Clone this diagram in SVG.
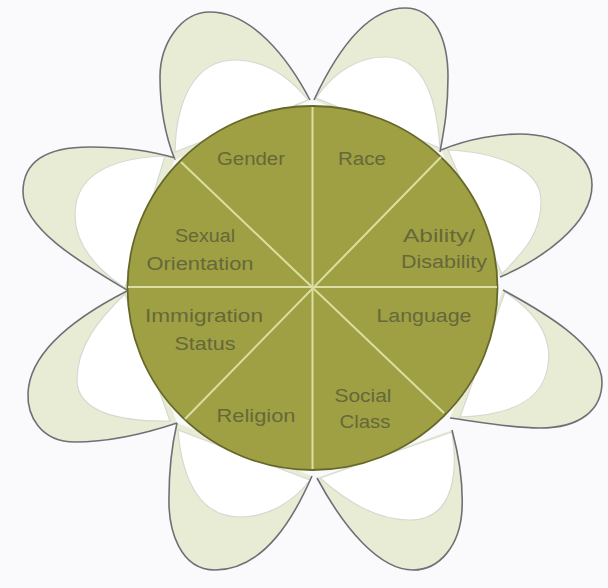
<svg xmlns="http://www.w3.org/2000/svg" width="608" height="588" viewBox="0 0 608 588">
  <style>
    .petal-fill { fill: #e9ecd5; stroke: none; }
    .petal-inner { fill: #ffffff; stroke: #d6d9d0; stroke-width: 1.2; }
    .petal-edge { fill: none; stroke: #6d7176; stroke-width: 1.6; stroke-linejoin: round; }
    .hub { fill: #9ea043; stroke: #66682a; stroke-width: 1.8; }
    .divider { stroke: #dcdfa2; stroke-width: 2; fill: none; }
    .label { font-family: "Liberation Sans", Arial, sans-serif; font-size: 18px; fill: #66683a; text-anchor: middle; }
  </style>
  <rect width="608" height="588" fill="#fafafc"/>

  <g id="petals">
    <g id="petal-gender">
      <path class="petal-fill" d="M310,100 C288,58 252,12 210,12 C180,12 160,45 160,77 C160,110 165,135 175,160 Z"/>
      <path class="petal-inner" d="M175,152 C176,100 195,60 235,60 C268,60 292,80 308,100 Z"/>
      <path class="petal-edge" d="M310,100 C288,58 252,12 210,12 C180,12 160,45 160,77 C160,110 165,135 175,160"/>
    </g>
    <g id="petal-race">
      <path class="petal-fill" d="M314,100 C335,55 365,8 405,8 C435,8 448,40 448,77 C448,110 444,130 440,152 Z"/>
      <path class="petal-inner" d="M316,98 C335,70 360,57 385,57 C420,57 436,90 440,148 Z"/>
      <path class="petal-edge" d="M314,100 C335,55 365,8 405,8 C435,8 448,40 448,77 C448,110 444,130 440,152"/>
    </g>
    <g id="petal-ability">
      <path class="petal-fill" d="M441,150 C470,138 500,134 520,134 C560,134 592,155 592,185 C592,225 540,260 500,277 Z"/>
      <path class="petal-inner" d="M448,150 C490,152 540,165 541,200 C542,235 520,255 502,274 Z"/>
      <path class="petal-edge" d="M441,150 C470,138 500,134 520,134 C560,134 592,155 592,185 C592,225 540,260 500,277"/>
    </g>
    <g id="petal-language">
      <path class="petal-fill" d="M503,290 C540,310 602,345 602,382 C602,410 580,428 540,428 C510,428 480,422 450,418 Z"/>
      <path class="petal-inner" d="M505,292 C540,315 552,340 548,365 C544,395 520,415 460,417 Z"/>
      <path class="petal-edge" d="M503,290 C540,310 602,345 602,382 C602,410 580,428 540,428 C510,428 480,422 450,418"/>
    </g>
    <g id="petal-social-class">
      <path class="petal-fill" d="M452,430 C460,460 463,490 462,510 C460,545 440,570 413,570 C380,570 345,530 317,478 Z"/>
      <path class="petal-inner" d="M452,432 C458,470 455,520 410,520 C375,520 345,500 320,478 Z"/>
      <path class="petal-edge" d="M452,430 C460,460 463,490 462,510 C460,545 440,570 413,570 C380,570 345,530 317,478"/>
    </g>
    <g id="petal-religion">
      <path class="petal-fill" d="M312,476 C295,515 265,570 215,570 C180,570 168,530 169,497 C169,470 172,445 177,423 Z"/>
      <path class="petal-inner" d="M178,430 C182,480 200,517 240,517 C270,517 295,500 310,480 Z"/>
      <path class="petal-edge" d="M312,476 C295,515 265,570 215,570 C180,570 168,530 169,497 C169,470 172,445 177,423"/>
    </g>
    <g id="petal-immigration">
      <path class="petal-fill" d="M177,423 C150,432 110,442 75,442 C40,442 27,415 28,393 C30,350 80,315 127,291 Z"/>
      <path class="petal-inner" d="M170,421 C120,422 77,412 77,380 C77,345 100,318 125,294 Z"/>
      <path class="petal-edge" d="M177,423 C150,432 110,442 75,442 C40,442 27,415 28,393 C30,350 80,315 127,291"/>
    </g>
    <g id="petal-sexual-orientation">
      <path class="petal-fill" d="M127,290 C85,265 23,230 23,192 C23,162 45,147 90,147 C125,147 155,152 175,158 Z"/>
      <path class="petal-inner" d="M165,156 C110,158 75,175 75,215 C75,245 95,268 125,288 Z"/>
      <path class="petal-edge" d="M127,290 C85,265 23,230 23,192 C23,162 45,147 90,147 C125,147 155,152 175,158"/>
    </g>
  </g>

  <g id="hub-circle">
    <ellipse class="hub" cx="312.5" cy="288" rx="185" ry="182"/>
  </g>

  <g id="connectors">
    <line class="divider" x1="312.5" y1="107" x2="312.5" y2="469"/>
    <line class="divider" x1="128" y1="287" x2="497" y2="287"/>
    <line class="divider" x1="181" y1="162" x2="444" y2="413"/>
    <line class="divider" x1="441" y1="157" x2="185" y2="419"/>
  </g>

  <g id="labels">
    <g id="node-gender"><text class="label" x="251" y="165" textLength="68" lengthAdjust="spacingAndGlyphs">Gender</text></g>
    <g id="node-race"><text class="label" x="362" y="165" textLength="48" lengthAdjust="spacingAndGlyphs">Race</text></g>
    <g id="node-sexual-orientation">
      <text class="label" x="205" y="242" textLength="60" lengthAdjust="spacingAndGlyphs">Sexual</text>
      <text class="label" x="200" y="270" textLength="107" lengthAdjust="spacingAndGlyphs">Orientation</text>
    </g>
    <g id="node-ability">
      <text class="label" x="439" y="242" textLength="72" lengthAdjust="spacingAndGlyphs">Ability/</text>
      <text class="label" x="444" y="268" textLength="86" lengthAdjust="spacingAndGlyphs">Disability</text>
    </g>
    <g id="node-immigration">
      <text class="label" x="204" y="322" textLength="118" lengthAdjust="spacingAndGlyphs">Immigration</text>
      <text class="label" x="205" y="350" textLength="61" lengthAdjust="spacingAndGlyphs">Status</text>
    </g>
    <g id="node-language"><text class="label" x="424" y="322" textLength="95" lengthAdjust="spacingAndGlyphs">Language</text></g>
    <g id="node-religion"><text class="label" x="256" y="422" textLength="79" lengthAdjust="spacingAndGlyphs">Religion</text></g>
    <g id="node-social-class">
      <text class="label" x="363" y="402" textLength="57" lengthAdjust="spacingAndGlyphs">Social</text>
      <text class="label" x="365" y="428" textLength="51" lengthAdjust="spacingAndGlyphs">Class</text>
    </g>
  </g>
</svg>
